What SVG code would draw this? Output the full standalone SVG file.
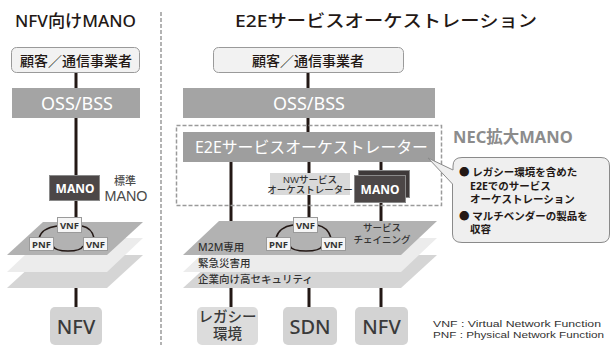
<svg xmlns="http://www.w3.org/2000/svg" width="613" height="345" viewBox="0 0 613 345">
<style>
text{font-family:"Noto Sans","Noto Sans CJK JP",sans-serif;}
.tight{font-family:"Liberation Sans","Noto Sans CJK JP",sans-serif;}
.title{font-size:17px;font-weight:500;fill:#231815;}
.cust{fill:#f2f2f2;stroke:#9a9a9a;stroke-width:1;}
.custt{font-size:14px;font-weight:500;fill:#231815;text-anchor:middle;}
.bar{fill:#a4a4a4;}
.bart{font-size:18px;fill:#ffffff;text-anchor:middle;}
.mano{fill:#4c4747;stroke:#8a8a8a;stroke-width:1;}
.manot{font-size:12px;font-weight:700;fill:#ffffff;text-anchor:middle;}
.l1{fill:#b2b2b2;}
.l2{fill:#ececec;}
.l3{fill:#d5d5d5;}
.nf{fill:#f5f5f5;stroke:#9a9a9a;stroke-width:1;}
.nft{font-size:9.5px;font-weight:700;fill:#333;text-anchor:middle;}
.con{stroke:#231815;stroke-width:3;fill:none;}
.arc{stroke:#231815;stroke-width:1.5;fill:none;}
.btm{fill:#d3d3d3;}
.btmt{font-size:20px;font-weight:500;fill:#3a3a3a;text-anchor:middle;}
.lay{font-size:10.5px;font-weight:500;fill:#333;}
.sm{font-size:9.5px;font-weight:500;fill:#333;text-anchor:middle;}
.bul{font-size:10.5px;font-weight:700;fill:#231815;}
.leg{font-size:9.5px;fill:#333;}
</style>

<!-- divider -->
<line x1="161" y1="12" x2="161" y2="345" stroke="#9a9a9a" stroke-width="1.5" stroke-dasharray="4,2"/>

<g id="left-title"><text class="title" x="15" y="27" textLength="121" lengthAdjust="spacingAndGlyphs">NFV向けMANO</text></g>
<g id="right-title"><text class="title" x="235" y="27" textLength="302" lengthAdjust="spacingAndGlyphs">E2Eサービスオーケストレーション</text></g>

<g id="connectors">
<line class="con" x1="76" y1="73" x2="76" y2="88"/>
<line class="con" x1="76" y1="118" x2="76" y2="175"/>
<line class="con" x1="76" y1="200" x2="76" y2="218"/>
<line class="con" x1="76" y1="288" x2="76" y2="307"/>
<line class="con" x1="308" y1="73" x2="308" y2="88"/>
<line class="con" x1="308" y1="118" x2="308" y2="132"/>
<line class="con" x1="231" y1="162" x2="231" y2="222"/>
<line class="con" x1="309" y1="162" x2="309" y2="173"/>
<line class="con" x1="309" y1="195" x2="309" y2="218"/>
<line class="con" x1="381" y1="162" x2="381" y2="175"/>
<line class="con" x1="381" y1="202" x2="381" y2="222"/>
<line class="con" x1="231" y1="288" x2="231" y2="307"/>
<line class="con" x1="309" y1="288" x2="309" y2="307"/>
<line class="con" x1="381" y1="288" x2="381" y2="307"/>
</g>

<g id="left-customer">
<rect class="cust" x="11.5" y="47.5" width="128" height="25" rx="5"/>
<text class="custt" x="76" y="65.5">顧客／通信事業者</text>
</g>
<g id="left-oss">
<rect class="bar" x="12" y="88" width="128" height="30"/>
<text class="bart" x="77" y="109.5">OSS/BSS</text>
</g>
<g id="left-mano">
<rect class="mano" x="49.5" y="175.5" width="50" height="25"/>
<text class="manot" x="75" y="192.5">MANO</text>
</g>
<g id="left-std">
<text class="tight" x="125" y="184.5" font-size="11" font-weight="500" fill="#4a4a4a" text-anchor="middle">標準</text>
<text class="tight" x="126" y="201" font-size="14.5" fill="#4a4a4a" text-anchor="middle" textLength="43" lengthAdjust="spacingAndGlyphs">MANO</text>
</g>
<g id="left-layers">
<polygon class="l3" points="43,255 143,255 107,288 7,288"/>
<polygon class="l2" points="43,238 143,238 107,272 7,272"/>
<polygon class="l1" points="43,222 143,222 107,255 7,255"/>
<path class="arc" d="M57,226 Q42,228 39,238"/>
<path class="arc" d="M82,226 Q92,228 94,238"/>
<path class="arc" d="M53,246 Q55,251 68,251 Q81,251 83,246"/>
<rect class="nf" x="57.5" y="217.5" width="24" height="15"/>
<text class="nft" x="69.5" y="229">VNF</text>
<rect class="nf" x="29.5" y="237.5" width="24" height="13"/>
<text class="nft" x="41.5" y="248">PNF</text>
<rect class="nf" x="83.5" y="237.5" width="24" height="13"/>
<text class="nft" x="95.5" y="248">VNF</text>
</g>
<g id="left-nfv">
<rect class="btm" x="50" y="307" width="52" height="38" rx="5"/>
<text class="btmt" x="76" y="334">NFV</text>
</g>

<g id="right-customer">
<rect class="cust" x="213.5" y="47.5" width="190" height="25" rx="5"/>
<text class="custt" x="308" y="65.5">顧客／通信事業者</text>
</g>
<g id="right-oss">
<rect class="bar" x="183" y="88" width="252" height="30"/>
<text class="bart" x="309" y="109.5">OSS/BSS</text>
</g>
<g id="nec-mano">
<rect x="176.5" y="125.5" width="265" height="80" fill="none" stroke="#9a9a9a" stroke-width="1.5" stroke-dasharray="4,2"/>
<text x="453" y="143" font-size="16.5" font-weight="700" fill="#8c8c8c">NEC拡大MANO</text>
</g>
<g id="e2e-orch">
<rect x="183" y="132" width="252" height="30" fill="#9e9e9e"/>
<text x="195" y="153" font-size="16" fill="#ffffff" textLength="233" lengthAdjust="spacingAndGlyphs">E2Eサービスオーケストレーター</text>
</g>
<g id="nw-orch">
<rect x="270" y="173" width="80" height="22" fill="#d9d9d9"/>
<text class="sm tight" x="310" y="183" font-size="8.8" font-weight="700">NWサービス</text>
<text class="sm tight" x="310" y="193" font-size="8.8" font-weight="700">オーケストレーター</text>
</g>
<g id="right-mano">
<rect x="358.5" y="170.5" width="51" height="27" fill="#3f3a3a" stroke="#8a8a8a"/>
<rect class="mano" x="354.5" y="175.5" width="51" height="27"/>
<text class="manot" x="380" y="193.5">MANO</text>
</g>
<g id="right-layers">
<polygon class="l3" points="219,255 437,255 401,288 183,288"/>
<polygon class="l2" points="219,238 437,238 401,272 183,272"/>
<polygon class="l1" points="219,221 437,221 401,255 183,255"/>
<text class="lay" x="198" y="251">M2M専用</text>
<text class="lay" x="198" y="267">緊急災害用</text>
<text class="lay" x="198" y="283">企業向け高セキュリティ</text>
<text class="sm"><tspan x="382" y="231">サービス</tspan><tspan x="382" y="243">チェイニング</tspan></text>
<path class="arc" d="M293,225 Q279,227 276,238"/>
<path class="arc" d="M317,225 Q328,227 331,238"/>
<path class="arc" d="M290,246 Q292,251 306,251 Q320,251 322,246"/>
<rect class="nf" x="293.5" y="217.5" width="24" height="15"/>
<text class="nft" x="305.5" y="229">VNF</text>
<rect class="nf" x="266.5" y="237.5" width="24" height="13"/>
<text class="nft" x="278.5" y="248">PNF</text>
<rect class="nf" x="321.5" y="237.5" width="24" height="13"/>
<text class="nft" x="333.5" y="248">VNF</text>
</g>
<g id="legacy">
<rect x="197" y="307" width="61" height="38" rx="5" fill="#dcdcdc"/>
<text class="tight" x="227.5" y="322" font-size="14.5" font-weight="500" fill="#3a3a3a" text-anchor="middle">レガシー</text>
<text class="tight" x="227.5" y="338.5" font-size="14.5" font-weight="500" fill="#3a3a3a" text-anchor="middle">環境</text>
</g>
<g id="sdn">
<rect class="btm" x="283" y="307" width="54" height="38" rx="5"/>
<text class="btmt" x="310" y="334">SDN</text>
</g>
<g id="right-nfv">
<rect class="btm" x="355" y="307" width="53" height="38" rx="5"/>
<text class="btmt" x="381.5" y="334">NFV</text>
</g>

<g id="callout">
<path d="M462,157.5 H601 Q609.5,157.5 609.5,166 V234 Q609.5,242.5 601,242.5 H462 Q452.5,242.5 452.5,234 V184 L428,158 L453,170 V166 Q453,157.5 462,157.5 Z" fill="#efefef" stroke="#8a8a8a" stroke-width="1"/>
<text class="bul"><tspan x="459" y="176">● レガシー環境を含めた</tspan><tspan x="470" y="190">E2Eでのサービス</tspan><tspan x="470" y="203">オーケストレーション</tspan></text>
<text class="bul"><tspan x="459" y="220">● マルチベンダーの製品を</tspan><tspan x="470" y="233">収容</tspan></text>
</g>

<g id="legend">
<text class="leg tight" x="433" y="326.8" textLength="168" lengthAdjust="spacingAndGlyphs">VNF : Virtual Network Function</text>
<text class="leg tight" x="433" y="337.6" textLength="171" lengthAdjust="spacingAndGlyphs">PNF : Physical Network Function</text>
</g>
</svg>
